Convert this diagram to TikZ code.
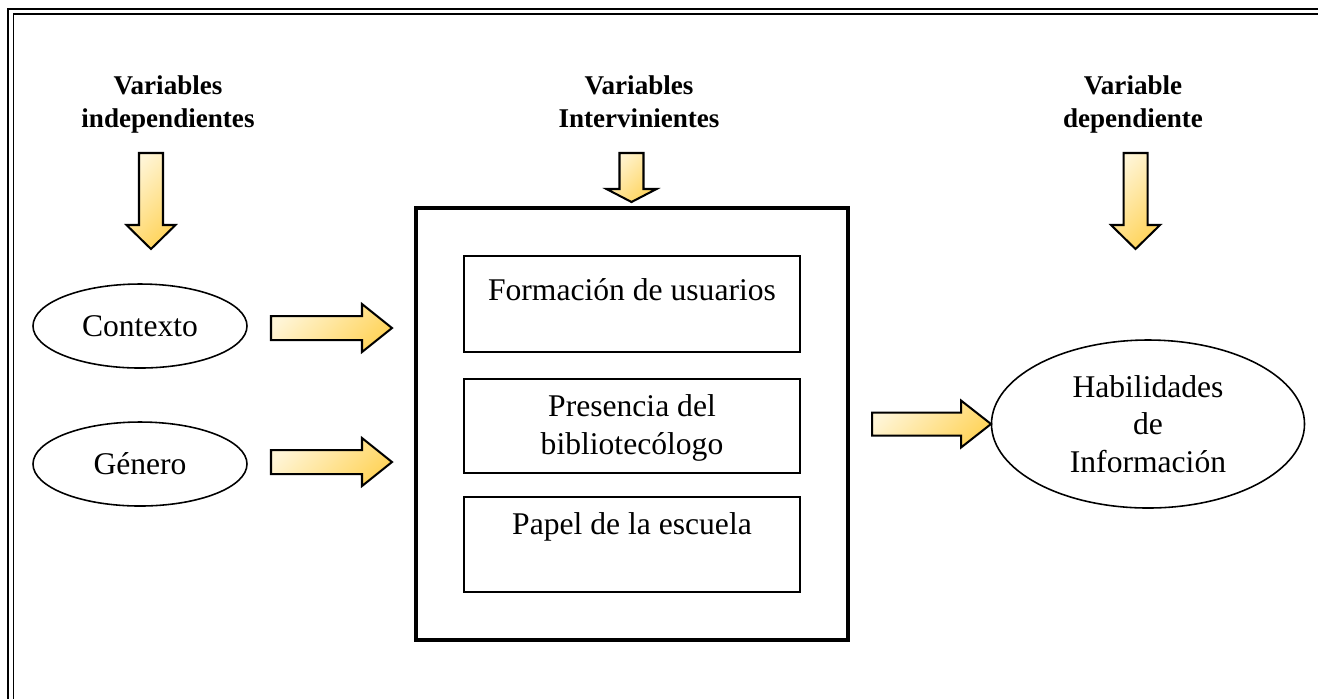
\documentclass[tikz,border=0pt]{standalone}
\usepackage{fontspec}
\setmainfont{Liberation Serif}
\usetikzlibrary{shapes.geometric,positioning}
\definecolor{arrlight}{HTML}{FFF5D6}
\definecolor{arrdark}{HTML}{FFD45C}
\newcommand{\px}{0.443pt}

\begin{document}
\begin{tikzpicture}[x=\px, y=-\px,
  heading/.style={font=\fontsize{12}{14.6}\selectfont\bfseries, align=center, anchor=north},
  body/.style={font=\fontsize{14}{16.6}\selectfont, align=center},
  oval/.style={ellipse, draw, line width=0.7pt, inner sep=0pt},
  ibox/.style={rectangle, draw, line width=0.7pt, inner sep=0pt, minimum width=336*\px},
  fatarrow/.style={draw, line width=0.9pt, top color=arrlight, bottom color=arrdark, shading angle=45}]

  % Fixed bounding box
  \path[use as bounding box] (0,0) rectangle (1318,699);

  % Double frame (runs off right and bottom)
  \draw[line width=0.9pt] (8,699) -- (8,9) -- (1318,9);
  \draw[line width=0.8pt] (13.5,699) -- (13.5,14) -- (1318,14);

  % Headings
  \node[heading] (hind) at (168,68) {Variables\\independientes};
  \node[heading] (hint) at (639,68) {Variables\\Intervinientes};
  \node[heading] (hdep) at (1133,68) {Variable\\dependiente};

  % Down arrows under the headings
  \def\sw{12}
  \foreach \xm/\ya/\yh/\yb/\hw in {151/153/225/249/24.5, 631.5/153/189/202/25, 1135.5/153/225/249/24.5} {
    \draw[fatarrow] (\xm-\sw,\ya) -- (\xm+\sw,\ya) -- (\xm+\sw,\yh) -- (\xm+\hw,\yh)
      -- (\xm,\yb) -- (\xm-\hw,\yh) -- (\xm-\sw,\yh) -- cycle;
  }

  % Independent variables
  \node[oval, minimum width=214*\px, minimum height=84*\px, body] (ctx) at (140,326) {Contexto};
  \node[oval, minimum width=214*\px, minimum height=84*\px, body] (gen) at (140,464) {Género};

  % Intervening variables
  \node[draw, line width=1.8pt, minimum width=432*\px, minimum height=432*\px] (interv) at (632,424) {};
  \node[ibox, minimum height=96*\px] (formbox) at (632,304) {};
  \node[body] (formtxt) at (632,290) {Formación de usuarios};
  \node[ibox, minimum height=94*\px] (presbox) at (632,426) {};
  \node[body] (prestxt) at (632,428) {Presencia del\\bibliotecólogo};
  \node[ibox, minimum height=95*\px] (papbox) at (632,544.5) {};
  \node[body] (paptxt) at (632,527) {Papel de la escuela};

  % Dependent variable
  \node[oval, minimum width=313*\px, minimum height=168*\px, body] (habil) at (1148,424) {Habilidades\\de\\Información};

  % Right arrows
  \def\hl{30}
  \foreach \xa/\xb/\ym/\sh/\hh in {271/392/328/12/24, 271/392/462/12/24, 872/991/424/11.5/23.5} {
    \draw[fatarrow] (\xa,\ym-\sh) -- (\xb-\hl,\ym-\sh) -- (\xb-\hl,\ym-\hh) -- (\xb,\ym)
      -- (\xb-\hl,\ym+\hh) -- (\xb-\hl,\ym+\sh) -- (\xa,\ym+\sh) -- cycle;
  }

\end{tikzpicture}
\end{document}
